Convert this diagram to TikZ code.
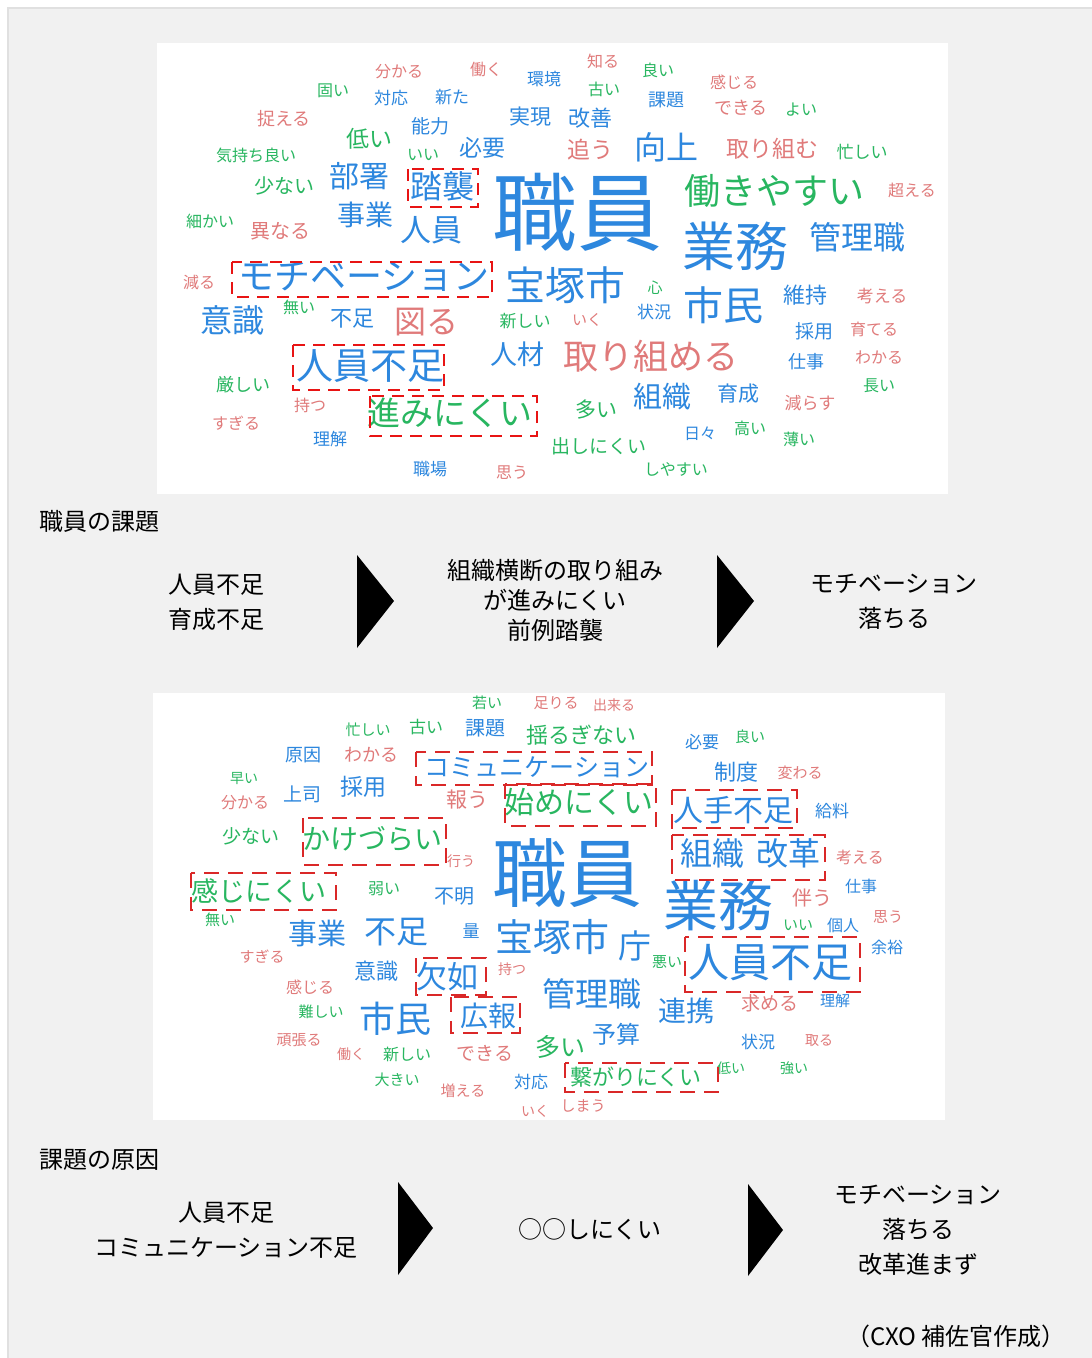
\documentclass[tikz,border=0pt]{standalone}
\usepackage{fontspec}
\setmainfont{Noto Sans CJK JP}
\definecolor{cblue}{RGB}{45,135,222}
\definecolor{cgreen}{RGB}{40,182,96}
\definecolor{cpink}{RGB}{224,122,122}
\definecolor{panel}{RGB}{241,241,241}
\definecolor{panelline}{RGB}{224,224,224}
\definecolor{boxred}{RGB}{232,20,20}
\definecolor{boxred2}{RGB}{218,40,40}
\newcommand{\W}[6]{\node[wc, text=#5, font=\fontsize{#4}{#4}\selectfont] (#1) at (#2,#3) {#6};}
\begin{document}
\begin{tikzpicture}[x=1pt,y=-1pt,
  wc/.style={inner sep=0pt, anchor=center},
  redboxa/.style={draw=boxred, line width=2.6pt, dash pattern=on 12pt off 8pt},
  redboxb/.style={draw=boxred2, line width=2pt, dash pattern=on 15pt off 9pt},
  flowtxt/.style={inner sep=0pt, align=center, text=black, font=\fontsize{24}{35}\selectfont},
  chev/.style={fill=black}]
\useasboundingbox (0,0) rectangle (1092,1358);
\fill[white] (0,0) rectangle (1092,1358);
\filldraw[fill=panel, draw=panelline, line width=2.5pt] (8,8) rectangle (1100,1366);
% word cloud panels
\fill[white] (157,43) rectangle (948,494);
\fill[white] (153,693) rectangle (945,1120);
% ---------------- top cloud ----------------
\W{ta01}{577}{212}{85}{cblue}{職員}
\W{ta02}{399}{72}{16}{cpink}{分かる}
\W{ta03}{486}{69}{16}{cpink}{働く}
\W{ta04}{544}{79}{17}{cblue}{環境}
\W{ta05}{603}{61}{16}{cpink}{知る}
\W{ta06}{658}{70}{16}{cgreen}{良い}
\W{ta07}{604}{89}{16}{cgreen}{古い}
\W{ta08}{734}{82}{16}{cpink}{感じる}
\W{ta09}{333}{91}{16}{cgreen}{固い}
\W{ta10}{391}{98}{17}{cblue}{対応}
\W{ta11}{452}{97}{17}{cblue}{新た}
\W{ta12}{666}{100}{18}{cblue}{課題}
\W{ta13}{741}{108}{18}{cpink}{できる}
\W{ta14}{801}{110}{16}{cgreen}{よい}
\W{ta15}{284}{119}{18}{cpink}{捉える}
\W{ta16}{530}{117}{21}{cblue}{実現}
\W{ta17}{590}{118}{22}{cblue}{改善}
\W{ta18}{430}{126}{19}{cblue}{能力}
\W{ta19}{369}{139}{23}{cgreen}{低い}
\W{ta20}{482}{148}{23}{cblue}{必要}
\W{ta21}{590}{150}{23}{cpink}{追う}
\W{ta22}{666}{147}{32}{cblue}{向上}
\W{ta23}{772}{149}{23}{cpink}{取り組む}
\W{ta24}{862}{152}{17}{cgreen}{忙しい}
\W{ta25}{256}{155}{16}{cgreen}{気持ち良い}
\W{ta26}{423}{155}{16}{cgreen}{いい}
\W{ta27}{359}{176}{30}{cblue}{部署}
\W{ta28}{442}{186}{32}{cblue}{踏襲}
\W{ta29}{284}{186}{20}{cgreen}{少ない}
\W{ta30}{774}{191}{36}{cgreen}{働きやすい}
\W{ta31}{912}{190}{16}{cpink}{超える}
\W{ta32}{365}{215}{28}{cblue}{事業}
\W{ta33}{210}{221}{16}{cgreen}{細かい}
\W{ta34}{280}{231}{20}{cpink}{異なる}
\W{ta35}{431}{230}{31}{cblue}{人員}
\W{ta36}{735}{246}{53}{cblue}{業務}
\W{ta37}{857}{237}{32}{cblue}{管理職}
\W{ta38}{199}{282}{16}{cpink}{減る}
\W{ta39}{364}{277}{36}{cblue}{モチベーション}
\W{ta40}{565}{285}{40}{cblue}{宝塚市}
\W{ta41}{655}{288}{15}{cgreen}{心}
\W{ta42}{723}{305}{40}{cblue}{市民}
\W{ta43}{805}{295}{22}{cblue}{維持}
\W{ta44}{882}{296}{17}{cpink}{考える}
\W{ta45}{232}{320}{32}{cblue}{意識}
\W{ta46}{299}{307}{16}{cgreen}{無い}
\W{ta47}{352}{319}{22}{cblue}{不足}
\W{ta48}{426}{322}{32}{cpink}{図る}
\W{ta49}{525}{321}{17}{cgreen}{新しい}
\W{ta50}{587}{320}{15}{cpink}{いく}
\W{ta51}{654}{312}{17}{cblue}{状況}
\W{ta52}{814}{331}{19}{cblue}{採用}
\W{ta53}{874}{329}{16}{cpink}{育てる}
\W{ta54}{370}{366}{37}{cblue}{人員不足}
\W{ta55}{517}{354}{27}{cblue}{人材}
\W{ta56}{651}{356}{35}{cpink}{取り組める}
\W{ta57}{806}{362}{18}{cblue}{仕事}
\W{ta58}{879}{357}{16}{cpink}{わかる}
\W{ta59}{243}{385}{18}{cgreen}{厳しい}
\W{ta60}{879}{386}{16}{cgreen}{長い}
\W{ta61}{310}{405}{16}{cpink}{持つ}
\W{ta62}{450}{413}{33}{cgreen}{進みにくい}
\W{ta63}{596}{410}{21}{cgreen}{多い}
\W{ta64}{662}{397}{29}{cblue}{組織}
\W{ta65}{738}{394}{21}{cblue}{育成}
\W{ta66}{810}{403}{17}{cpink}{減らす}
\W{ta67}{236}{423}{16}{cpink}{すぎる}
\W{ta68}{330}{439}{17}{cblue}{理解}
\W{ta69}{599}{446}{19}{cgreen}{出しにくい}
\W{ta70}{700}{434}{16}{cblue}{日々}
\W{ta71}{750}{428}{16}{cgreen}{高い}
\W{ta72}{799}{439}{16}{cgreen}{薄い}
\W{ta73}{430}{469}{17}{cblue}{職場}
\W{ta74}{512}{473}{16}{cpink}{思う}
\W{ta75}{676}{469}{16}{cgreen}{しやすい}
% top red boxes
\draw[redboxa] (408,169) rectangle (478,207);
\draw[redboxa] (232,262) rectangle (492,297);
\draw[redboxa] (293,345) rectangle (444,390);
\draw[redboxa] (370,396) rectangle (537,436);
% ---------------- bottom cloud ----------------
\W{tb01}{567}{873}{75}{cblue}{職員}
\W{tb02}{487}{703}{15}{cgreen}{若い}
\W{tb03}{556}{703}{15}{cpink}{足りる}
\W{tb04}{614}{705}{14}{cpink}{出来る}
\W{tb05}{368}{730}{15}{cgreen}{忙しい}
\W{tb06}{426}{727}{17}{cgreen}{古い}
\W{tb07}{485}{728}{20}{cblue}{課題}
\W{tb08}{581}{735}{22}{cgreen}{揺るぎない}
\W{tb09}{702}{742}{17}{cblue}{必要}
\W{tb10}{750}{737}{15}{cgreen}{良い}
\W{tb11}{303}{755}{18}{cblue}{原因}
\W{tb12}{371}{755}{18}{cpink}{わかる}
\W{tb13}{537}{767}{25}{cblue}{コミュニケーション}
\W{tb14}{736}{772}{22}{cblue}{制度}
\W{tb15}{800}{773}{15}{cpink}{変わる}
\W{tb16}{244}{778}{14}{cgreen}{早い}
\W{tb17}{302}{794}{19}{cblue}{上司}
\W{tb18}{363}{787}{23}{cblue}{採用}
\W{tb19}{245}{803}{16}{cpink}{分かる}
\W{tb20}{467}{800}{21}{cpink}{報う}
\W{tb21}{579}{802}{30}{cgreen}{始めにくい}
\W{tb22}{733}{810}{30}{cblue}{人手不足}
\W{tb23}{832}{811}{17}{cblue}{給料}
\W{tb24}{251}{836}{19}{cgreen}{少ない}
\W{tb25}{372}{839}{28}{cgreen}{かけづらい}
\W{tb26}{461}{861}{14}{cpink}{行う}
\W{tb27}{750}{853}{32}{cblue}{組織\hspace{12pt}改革}
\W{tb28}{860}{857}{16}{cpink}{考える}
\W{tb29}{259}{891}{27}{cgreen}{感じにくい}
\W{tb30}{384}{889}{16}{cgreen}{弱い}
\W{tb31}{454}{896}{20}{cblue}{不明}
\W{tb32}{861}{886}{16}{cblue}{仕事}
\W{tb33}{812}{898}{20}{cpink}{伴う}
\W{tb34}{718}{906}{55}{cblue}{業務}
\W{tb35}{220}{920}{15}{cgreen}{無い}
\W{tb36}{317}{933}{29}{cblue}{事業}
\W{tb37}{396}{932}{32}{cblue}{不足}
\W{tb38}{471}{931}{17}{cblue}{量}
\W{tb39}{552}{937}{38}{cblue}{宝塚市}
\W{tb40}{635}{946}{33}{cblue}{庁}
\W{tb41}{798}{925}{15}{cgreen}{いい}
\W{tb42}{843}{925}{16}{cblue}{個人}
\W{tb43}{888}{917}{15}{cpink}{思う}
\W{tb44}{887}{947}{16}{cblue}{余裕}
\W{tb45}{262}{957}{15}{cpink}{すぎる}
\W{tb46}{667}{962}{15}{cgreen}{悪い}
\W{tb47}{770}{963}{41}{cblue}{人員不足}
\W{tb48}{376}{971}{22}{cblue}{意識}
\W{tb49}{447}{977}{31}{cblue}{欠如}
\W{tb50}{512}{969}{14}{cpink}{持つ}
\W{tb51}{310}{987}{16}{cpink}{感じる}
\W{tb52}{592}{994}{33}{cblue}{管理職}
\W{tb53}{321}{1012}{15}{cgreen}{難しい}
\W{tb54}{395}{1019}{36}{cblue}{市民}
\W{tb55}{488}{1016}{28}{cblue}{広報}
\W{tb56}{686}{1011}{28}{cblue}{連携}
\W{tb57}{770}{1003}{19}{cpink}{求める}
\W{tb58}{835}{1001}{15}{cblue}{理解}
\W{tb59}{616}{1034}{24}{cblue}{予算}
\W{tb60}{299}{1040}{15}{cpink}{頑張る}
\W{tb61}{351}{1054}{14}{cpink}{働く}
\W{tb62}{407}{1054}{16}{cgreen}{新しい}
\W{tb63}{485}{1053}{19}{cpink}{できる}
\W{tb64}{560}{1047}{25}{cgreen}{多い}
\W{tb65}{758}{1042}{17}{cblue}{状況}
\W{tb66}{819}{1041}{14}{cpink}{取る}
\W{tb67}{397}{1080}{15}{cgreen}{大きい}
\W{tb68}{463}{1091}{15}{cpink}{増える}
\W{tb69}{531}{1082}{17}{cblue}{対応}
\W{tb70}{636}{1077}{22}{cgreen}{繋がりにくい}
\W{tb71}{731}{1068}{14}{cgreen}{低い}
\W{tb72}{794}{1068}{14}{cgreen}{強い}
\W{tb73}{535}{1111}{14}{cpink}{いく}
\W{tb74}{583}{1106}{15}{cpink}{しまう}
% bottom red boxes
\draw[redboxb] (416,752) rectangle (652,785);
\draw[redboxb] (505,784) rectangle (656,826);
\draw[redboxb] (303,818) rectangle (446,865);
\draw[redboxb] (672,790) rectangle (797,828);
\draw[redboxb] (672,835) rectangle (825,880);
\draw[redboxb] (191,873) rectangle (336,910);
\draw[redboxb] (416,958) rectangle (486,995);
\draw[redboxb] (451,997) rectangle (520,1033);
\draw[redboxb] (685,937) rectangle (860,992);
\draw[redboxb] (565,1063) rectangle (718,1092);
% ---------------- flow 1 ----------------
\node[flowtxt, anchor=west] (fa) at (39,521) {職員の課題};
\node[flowtxt] (fb) at (216,602) {人員不足\\育成不足};
\fill[chev] (357,555) -- (394,601) -- (357,648) -- cycle;
\node[flowtxt, font=\fontsize{24}{30}\selectfont] (fc) at (555,600) {組織横断の取り組み\\が進みにくい\\前例踏襲};
\fill[chev] (717,555) -- (754,601) -- (717,648) -- cycle;
\node[flowtxt] (fd) at (894,602) {モチベーション\\落ちる};
% ---------------- flow 2 ----------------
\node[flowtxt, anchor=west] (fe) at (39,1160) {課題の原因};
\node[flowtxt] (ff) at (226,1230) {人員不足\\コミュニケーション不足};
\fill[chev] (398,1182) -- (433,1228) -- (398,1275) -- cycle;
\node[flowtxt] (fg) at (590,1229) {○○しにくい};
\fill[chev] (748,1184) -- (783,1230) -- (748,1276) -- cycle;
\node[flowtxt] (fh) at (918,1230) {モチベーション\\落ちる\\改革進まず};
\node[flowtxt, anchor=east] (fi) at (1066,1336) {（CXO 補佐官作成）};
\end{tikzpicture}
\end{document}
